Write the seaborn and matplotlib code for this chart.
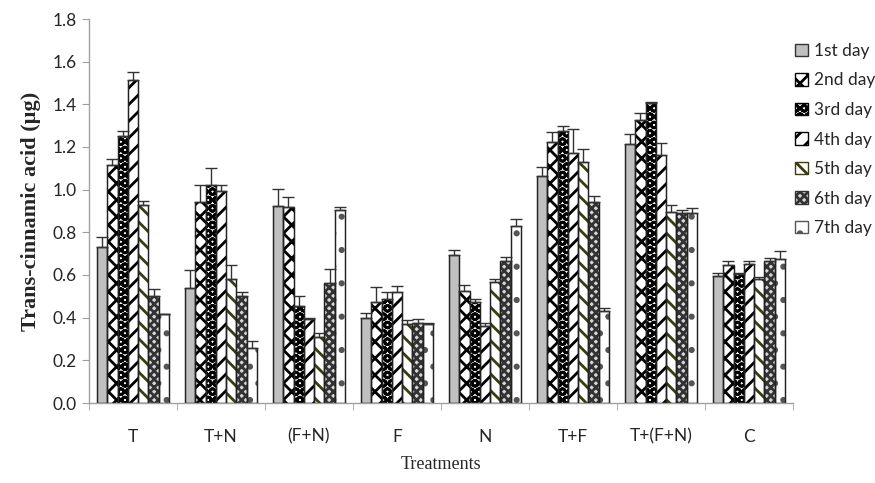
import numpy as np
import pandas as pd
import matplotlib
matplotlib.use("Agg")
import matplotlib.pyplot as plt
import seaborn as sns
from matplotlib.patches import Patch

# values
treatments = ["T", "T+N", "(F+N)", "F", "N", "T+F", "T+(F+N)", "C"]
days = ["1st day", "2nd day", "3rd day", "4th day", "5th day", "6th day", "7th day"]

day1 = [0.73, 0.54, 0.925, 0.40, 0.695, 1.066, 1.213, 0.594]
day2 = [1.114, 0.942, 0.917, 0.472, 0.525, 1.222, 1.325, 0.647]
day3 = [1.25, 1.02, 0.453, 0.488, 0.472, 1.277, 1.405, 0.603]
day4 = [1.516, 0.994, 0.394, 0.519, 0.361, 1.17, 1.163, 0.65]
day5 = [0.927, 0.581, 0.309, 0.37, 0.566, 1.128, 0.897, 0.58]
day6 = [0.50, 0.50, 0.561, 0.376, 0.667, 0.944, 0.892, 0.667]
day7 = [0.417, 0.256, 0.905, 0.369, 0.831, 0.431, 0.892, 0.673]

err1 = [0.047, 0.083, 0.08, 0.02, 0.02, 0.042, 0.047, 0.014]
err2 = [0.03, 0.08, 0.05, 0.07, 0.028, 0.05, 0.033, 0.02]
err3 = [0.025, 0.08, 0.05, 0.031, 0.014, 0.021, 0.008, 0.008]
err4 = [0.035, 0.027, 0.005, 0.028, 0.015, 0.114, 0.054, 0.017]
err5 = [0.02, 0.067, 0.02, 0.02, 0.014, 0.061, 0.03, 0.009]
err6 = [0.033, 0.019, 0.067, 0.019, 0.016, 0.028, 0.013, 0.014]
err7 = [0.0, 0.033, 0.015, 0.005, 0.033, 0.013, 0.021, 0.041]

values = [day1, day2, day3, day4, day5, day6, day7]
errors = [err1, err2, err3, err4, err5, err6, err7]

df = pd.DataFrame({
    "Treatment": np.tile(treatments, len(days)),
    "Day": np.repeat(days, len(treatments)),
    "Value": np.concatenate(values),
})

# fill styles for each day
faces = ["#c0c0c0", "white", "white", "white", "white", "#d8d8d8", "white"]
hatches = [None, "xx", "OO", "//", "\\\\", "xxxx", "."]
hatch_cols = ["#333333", "black", "black", "black", "#3b3b12", "#333333", "#555555"]

sns.set_style("white")
plt.rcParams["hatch.linewidth"] = 2.0

fig = plt.figure(figsize=(8.75, 4.83), dpi=100)
ax = fig.add_axes([89 / 875, 1 - 403 / 483, (793 - 89) / 875, (403 - 19) / 483])

sns.barplot(data=df, x="Treatment", y="Value", hue="Day", order=treatments,
            hue_order=days, width=0.82, errorbar=None, ax=ax, legend=False)

bar_groups = list(ax.containers)
for i, cont in enumerate(bar_groups):
    xs = []
    for bar in cont:
        bar.set_facecolor(faces[i])
        bar.set_edgecolor(hatch_cols[i] if hatches[i] else "#333333")
        bar.set_linewidth(0.8)
        if hatches[i]:
            bar.set_hatch(hatches[i])
        xs.append(bar.get_x() + bar.get_width() / 2)
        # outline in black on top of the hatched fill
        ax.add_patch(plt.Rectangle((bar.get_x(), 0), bar.get_width(), bar.get_height(),
                                   fill=False, edgecolor="#222222", lw=1.0, zorder=3))
    ax.errorbar(xs, values[i], yerr=[np.zeros(len(xs)), errors[i]], fmt="none",
                ecolor="#333333", elinewidth=1, capsize=4, capthick=1, zorder=4)

ax.set_xlim(-0.5, 7.5)
ax.set_ylim(0, 1.8)
ax.set_yticks(np.arange(0, 1.81, 0.2))
ax.set_yticklabels([f"{v:.1f}" for v in np.arange(0, 1.81, 0.2)])
ax.set_xticks(range(len(treatments)))
ax.set_xticklabels(treatments)
ax.set_xticks(np.arange(-0.5, 8, 1), minor=True)

for s in ["top", "right"]:
    ax.spines[s].set_visible(False)
for s in ["left", "bottom"]:
    ax.spines[s].set_color("#a0a0a0")
    ax.spines[s].set_linewidth(1)

ax.tick_params(axis="y", which="major", left=True, length=5, color="#a0a0a0",
               labelsize=12.5, pad=4)
ax.tick_params(axis="x", which="major", bottom=False, labelsize=12.5, pad=15)
ax.tick_params(axis="x", which="minor", bottom=True, length=5, color="#a0a0a0")
for lab in ax.get_xticklabels() + ax.get_yticklabels():
    lab.set_family(["Lato", "DejaVu Sans"])

ax.set_xlabel("Treatments", fontsize=13, family="Liberation Serif", labelpad=8)
ax.set_ylabel("Trans-cinnamic acid (µg)", fontsize=16, family="Liberation Serif",
              fontweight="bold", labelpad=8)

handles = [Patch(facecolor=faces[i], edgecolor=hatch_cols[i] if hatches[i] else "#333333",
                 hatch=hatches[i], label=days[i]) for i in range(len(days))]
leg = fig.legend(handles=handles, loc="upper left", bbox_to_anchor=(788 / 875, 1 - 36 / 483),
                 frameon=False, handlelength=0.75, handleheight=0.75, handletextpad=0.35,
                 labelspacing=0.78, borderaxespad=0,
                 prop={"family": "Lato", "size": 12.5})

fig.savefig("out.png", dpi=100)
